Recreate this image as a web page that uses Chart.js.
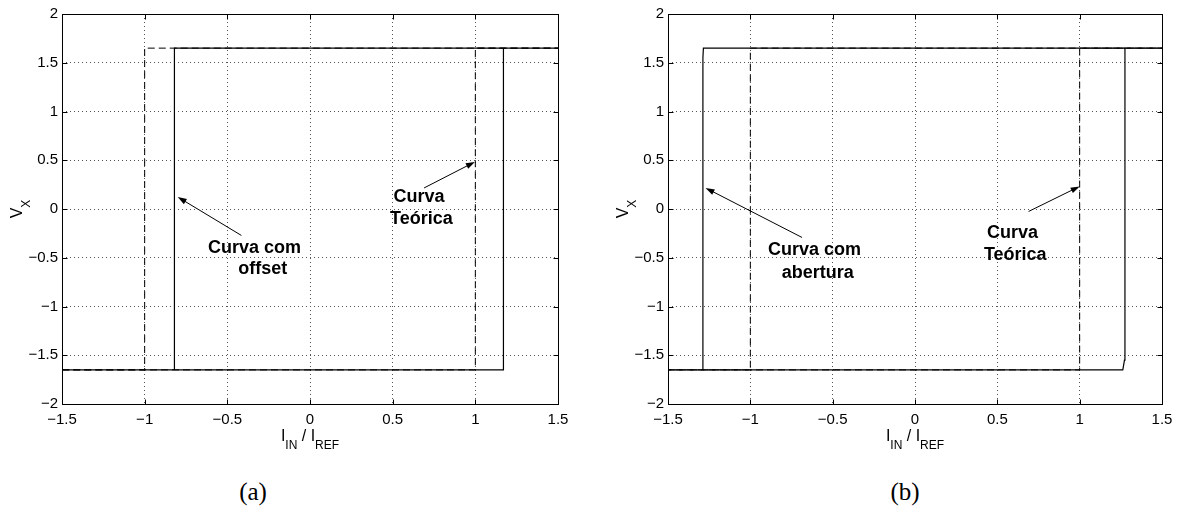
<!DOCTYPE html>
<html>
<head>
<meta charset="utf-8">
<script src="https://cdn.jsdelivr.net/npm/chart.js@4.4.1/dist/chart.umd.min.js"></script>
<style>
    body { margin: 0; background: #fff; width: 1184px; height: 520px; position: relative; overflow: hidden; }
    canvas { position: absolute; top: 0; }
    .cap { position: absolute; top: 477px; width: 80px; line-height: 30px; text-align: center;
           font-family: 'Liberation Serif', 'DejaVu Serif', serif; font-size: 25px; color: #000; }
</style>
</head>
<body>
<canvas id="chartA" width="592" height="470" style="left:0"></canvas>
<canvas id="chartB" width="592" height="470" style="left:592px"></canvas>
<div class="cap" style="left:213px">(a)</div>
<div class="cap" style="left:865px">(b)</div>
<script>
// eixos
var xTicks = [-1.5, -1, -0.5, 0, 0.5, 1, 1.5];
var yTicks = [-2, -1.5, -1, -0.5, 0, 0.5, 1, 1.5, 2];

// curva teorica (tracejada), igual nos dois graficos
var teoX = [-1.5, 1, 1, 1.5, -1, -1, -1.5];
var teoY = [-1.65, -1.65, 1.65, 1.65, 1.65, -1.65, -1.65];

// (a) curva com offset
var offX = [-1.5, 1.17, 1.17, 1.5, -0.82, -0.82, -1.5];
var offY = [-1.65, -1.65, 1.65, 1.65, 1.65, -1.65, -1.65];

// (b) curva com abertura
var abX = [-1.5, 1.262, 1.272, 1.275, 1.5, -1.285, -1.288, -1.288, -1.5];
var abY = [-1.65, -1.65, -1.55, 1.65, 1.65, 1.65, 1.55, -1.65, -1.65];

// anotacoes (a)
var notasA = ['Curva com', 'offset', 'Curva', 'Teórica'];
var notasAX = [-0.336, -0.286, 0.66, 0.674];
var notasAY = [-0.398, -0.614, 0.123, -0.1];
var setasA = [[-0.415, -0.271, -0.80, 0.123], [0.69, 0.216, 0.997, 0.483]];

// anotacoes (b)
var notasB = ['Curva com', 'abertura', 'Curva', 'Teórica'];
var notasBX = [-0.61, -0.59, 0.592, 0.609];
var notasBY = [-0.418, -0.652, -0.247, -0.473];
var setasB = [[-0.686, -0.292, -1.272, 0.216], [0.69, -0.025, 1.0, 0.232]];

function pontos(xs, ys) {
    return xs.map(function (x, i) { return { x: x, y: ys[i] }; });
}

function menos(v) {
    return String(v).replace('-', '\u2212');
}

// moldura, ticks internos, titulos dos eixos e setas
var moldura = {
    id: 'moldura',
    afterDraw: function (chart) {
        var ctx = chart.ctx, a = chart.chartArea;
        var sx = chart.scales.x, sy = chart.scales.y;
        var o = chart.options.plugins.moldura;
        var L = Math.round(a.left) + 0.5, R = Math.round(a.right) + 0.5;
        var T = Math.round(a.top) + 0.5, B = Math.round(a.bottom) + 0.5;
        ctx.save();
        ctx.strokeStyle = '#000';
        ctx.lineWidth = 1;
        ctx.beginPath();
        xTicks.forEach(function (v) {
            var p = Math.round(sx.getPixelForValue(v)) + 0.5;
            ctx.moveTo(p, B); ctx.lineTo(p, B - 5);
            ctx.moveTo(p, T); ctx.lineTo(p, T + 5);
        });
        yTicks.forEach(function (v) {
            var p = Math.round(sy.getPixelForValue(v)) + 0.5;
            ctx.moveTo(L, p); ctx.lineTo(L + 5, p);
            ctx.moveTo(R, p); ctx.lineTo(R - 5, p);
        });
        ctx.stroke();
        ctx.strokeRect(L, T, R - L, B - T);

        // titulo eixo y: V com subscrito X
        ctx.fillStyle = '#000';
        ctx.save();
        var cy = (a.top + a.bottom) / 2;
        ctx.translate(a.left - 40, cy);
        ctx.rotate(-Math.PI / 2);
        ctx.textBaseline = 'alphabetic';
        ctx.textAlign = 'left';
        ctx.font = '16px "Liberation Sans", Arial, sans-serif';
        var wV = ctx.measureText('V').width;
        ctx.font = '12px "Liberation Sans", Arial, sans-serif';
        var wX = ctx.measureText('X').width;
        var x0 = -(wV + wX) / 2;
        ctx.font = '16px "Liberation Sans", Arial, sans-serif';
        ctx.fillText('V', x0, 0);
        ctx.font = '12px "Liberation Sans", Arial, sans-serif';
        ctx.fillText('X', x0 + wV, 8);
        ctx.restore();

        // titulo eixo x: I_IN / I_REF
        var partes = [['I', 0], ['IN', 1], [' / ', 0], ['I', 0], ['REF', 1]];
        var tot = 0;
        partes.forEach(function (p) {
            ctx.font = (p[1] ? '12px' : '16px') + ' "Liberation Sans", Arial, sans-serif';
            p.push(ctx.measureText(p[0]).width);
            tot += p[2];
        });
        var px = (a.left + a.right) / 2 - tot / 2, base = a.bottom + 37;
        ctx.textAlign = 'left';
        ctx.textBaseline = 'alphabetic';
        partes.forEach(function (p) {
            ctx.font = (p[1] ? '12px' : '16px') + ' "Liberation Sans", Arial, sans-serif';
            ctx.fillText(p[0], px, base + (p[1] ? 8 : 0));
            px += p[2];
        });

        // anotacoes
        ctx.font = 'bold 18px "Liberation Sans", Arial, sans-serif';
        ctx.textAlign = 'center';
        ctx.textBaseline = 'middle';
        o.notas.forEach(function (t, i) {
            ctx.fillText(t, sx.getPixelForValue(o.notasX[i]), sy.getPixelForValue(o.notasY[i]));
        });
        o.setas.forEach(function (s) {
            var x1 = sx.getPixelForValue(s[0]), y1 = sy.getPixelForValue(s[1]);
            var x2 = sx.getPixelForValue(s[2]), y2 = sy.getPixelForValue(s[3]);
            var ang = Math.atan2(y2 - y1, x2 - x1);
            ctx.beginPath();
            ctx.moveTo(x1, y1);
            ctx.lineTo(x2 - 6 * Math.cos(ang), y2 - 6 * Math.sin(ang));
            ctx.stroke();
            ctx.beginPath();
            ctx.moveTo(x2, y2);
            ctx.lineTo(x2 - 9 * Math.cos(ang) + 3 * Math.sin(ang), y2 - 9 * Math.sin(ang) - 3 * Math.cos(ang));
            ctx.lineTo(x2 - 9 * Math.cos(ang) - 3 * Math.sin(ang), y2 - 9 * Math.sin(ang) + 3 * Math.cos(ang));
            ctx.closePath();
            ctx.fill();
        });
        ctx.restore();
    }
};

function setupNewGraph(id, curvaX, curvaY, eixoL, padR, notas, notasX, notasY, setas) {
    var fonteTick = { family: '"Liberation Sans", Arial, sans-serif', size: 15 };
    var config = {
        type: 'scatter',
        data: {
            datasets: [{
                data: pontos(teoX, teoY),
                showLine: true,
                borderColor: '#000',
                borderWidth: 1,
                borderDash: [7, 4],
                pointRadius: 0,
                tension: 0
            },
            {
                data: pontos(curvaX, curvaY),
                showLine: true,
                borderColor: '#000',
                borderWidth: 1.2,
                pointRadius: 0,
                tension: 0
            }]
        },
        options: {
            responsive: false,
            animation: false,
            events: [],
            layout: { padding: { top: 14, right: padR, left: 0, bottom: 0 } },
            scales: {
                x: {
                    type: 'linear',
                    min: -1.5, max: 1.5,
                    afterFit: function (s) { s.height = 66; },
                    afterBuildTicks: function (s) { s.ticks = xTicks.map(function (v) { return { value: v }; }); },
                    ticks: { color: '#000', font: fonteTick, padding: 7, maxRotation: 0, autoSkip: false, callback: menos },
                    grid: { color: '#555', lineWidth: 1, drawTicks: false },
                    border: { display: false, dash: [1, 3] }
                },
                y: {
                    type: 'linear',
                    min: -2, max: 2,
                    afterFit: function (s) { s.width = eixoL; },
                    afterBuildTicks: function (s) { s.ticks = yTicks.map(function (v) { return { value: v }; }); },
                    ticks: { color: '#000', font: fonteTick, padding: 4, autoSkip: false, callback: menos },
                    grid: { color: '#555', lineWidth: 1, drawTicks: false },
                    border: { display: false, dash: [1, 3] }
                }
            },
            plugins: {
                legend: { display: false },
                tooltip: { enabled: false },
                moldura: { notas: notas, notasX: notasX, notasY: notasY, setas: setas }
            }
        },
        plugins: [moldura]
    };
    return new Chart(document.getElementById(id), config);
}

var myChartA = setupNewGraph('chartA', offX, offY, 62, 34, notasA, notasAX, notasAY, setasA);
var myChartB = setupNewGraph('chartB', abX, abY, 76, 22, notasB, notasBX, notasBY, setasB);
</script>
</body>
</html>
